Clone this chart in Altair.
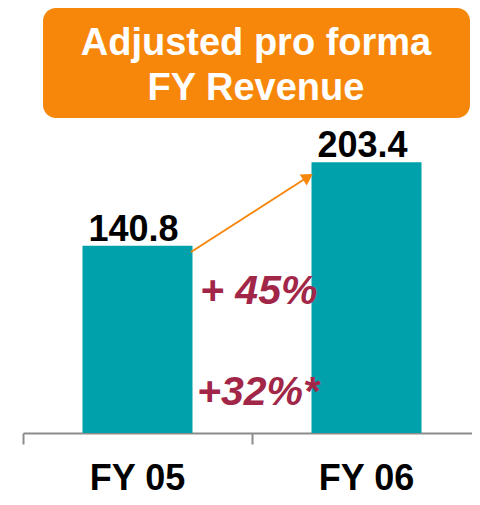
import altair as alt
import pandas as pd

# ---- data ----
years = ["FY 05", "FY 06"]
revenue = [140.8, 203.4]
value_labels = ["140.8", "203.4"]
title_lines = "Adjusted pro forma\nFY Revenue"
growth_labels = ["+ 45%", "+32%*"]

df = pd.DataFrame({"year": years, "revenue": revenue, "label": value_labels})
one = pd.DataFrame({"k": [0]})

FONT = "Liberation Sans"
TEAL = "#00A1AB"
ORANGE = "#F7870B"
RED = "#A12648"

W, H = 449, 425
RANGE = 458
YMAX = 319.4

x_enc = alt.X(
    "year:N",
    sort=years,
    scale=alt.Scale(paddingInner=0, paddingOuter=0, range=[0, RANGE]),
    axis=alt.Axis(
        title=None,
        bandPosition=0,
        labelAngle=0,
        labelFont=FONT,
        labelFontSize=36,
        labelFontWeight="bold",
        labelColor="#000000",
        labelBaseline="alphabetic",
        labelPadding=45,
        domainColor="#8C8C8C",
        domainWidth=2,
        tickColor="#8C8C8C",
        tickWidth=2,
        tickSize=11,
        grid=False,
    ),
)
y_enc = alt.Y("revenue:Q", scale=alt.Scale(domain=[0, YMAX]), axis=None)

bars = alt.Chart(df).mark_bar(color=TEAL, width=110).encode(x=x_enc, y=y_enc)

values = alt.Chart(df).mark_text(
    font=FONT, fontSize=36, fontWeight="bold", color="#000000",
    baseline="alphabetic", dy=-5, dx=-4,
).encode(x=alt.X("year:N", sort=years), y=y_enc, text="label:N")

box = alt.Chart(one).mark_rect(color=ORANGE, cornerRadius=13).encode(
    x=alt.value(20), x2=alt.value(447), y=alt.value(0), y2=alt.value(110)
)

title = alt.Chart(one).mark_text(
    text=title_lines, lineBreak="\n", lineHeight=45,
    font=FONT, fontSize=38, fontWeight="bold", color="#FFFFFF",
    align="center", baseline="alphabetic",
).encode(x=alt.value(233), y=alt.value(47))

arrow_line = alt.Chart(one).mark_rule(color=ORANGE, strokeWidth=2).encode(
    x=alt.value(168), y=alt.value(244), x2=alt.value(284), y2=alt.value(169.5)
)
arrow_head = alt.Chart(one).mark_point(
    shape="triangle-right", filled=True, color=ORANGE, opacity=1,
    size=170, angle=327.6,
).encode(x=alt.value(285), y=alt.value(169))

g45 = alt.Chart(one).mark_text(
    text=growth_labels[0], font=FONT, fontSize=41, fontWeight="bold",
    fontStyle="italic", color=RED, align="left", baseline="alphabetic",
).encode(x=alt.value(177), y=alt.value(296))

g32 = alt.Chart(one).mark_text(
    text=growth_labels[1], font=FONT, fontSize=41, fontWeight="bold",
    fontStyle="italic", color=RED, align="left", baseline="alphabetic",
).encode(x=alt.value(174), y=alt.value(397))

chart = alt.layer(
    bars, values, arrow_line, arrow_head, g45, g32, box, title
).properties(
    width=W, height=H,
    autosize=alt.AutoSizeParams(type="none"),
    padding={"left": 15, "top": 0, "right": 0, "bottom": 64},
    background="#FFFFFF",
).configure_view(stroke=None)

chart.save("out.html", embed_options={"renderer": "svg", "actions": False})
